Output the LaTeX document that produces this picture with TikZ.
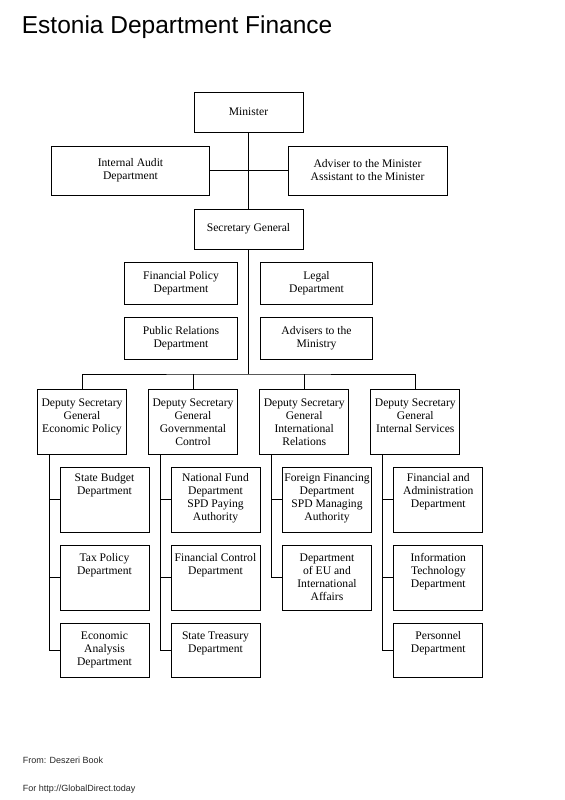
\documentclass[tikz,border=0pt]{standalone}
\usepackage{fontspec}
\setmainfont{Liberation Serif}
\newfontfamily\headfont{Liberation Sans}
\newcommand{\boxfont}{\fontsize{11.6bp}{13bp}\selectfont}
\newcommand{\tallbox}[3]{\parbox[c][#1][t]{89bp}{\vspace*{#2}\centering\strut #3}}
\begin{document}
\begin{tikzpicture}[x=1bp,y=-1bp,
  box/.style={draw, line width=1bp, inner sep=0pt, align=center, font=\boxfont},
  staff/.style={minimum width=112.5bp, minimum height=42bp},
  link/.style={line width=1bp},
  note/.style={anchor=base west, inner sep=0pt, text=black!85}]
\useasboundingbox (0,0) rectangle (565,800);
\node[note, text=black, font=\headfont\fontsize{24.5bp}{28bp}\selectfont] (title) at (21.7,33.3) {Estonia Department Finance};
\node[box, minimum width=109bp, minimum height=40bp] (minister) at (248.5,112) {Minister};
\node[box, minimum width=157bp, minimum height=49bp] (audit) at (130.5,170.5) {Internal Audit\\Department};
\node[box, minimum width=159bp, minimum height=49bp] (adviser) at (367.5,170.5) {Adviser to the Minister\\Assistant to the Minister};
\node[box, minimum width=109bp, minimum height=40bp] (secgen) at (248.5,229) {Secretary General};
\node[box, staff] (finpol) at (181,283) {Financial Policy\\Department};
\node[box, staff] (legal) at (316.5,283) {Legal\\Department};
\node[box, staff] (pubrel) at (181,338) {Public Relations\\Department};
\node[box, staff] (advmin) at (316.5,338) {Advisers to the\\Ministry};
\node[box] (dsecon) at (82,421.7) {\tallbox{65bp}{8bp}{Deputy Secretary\\General\\Economic Policy}};
\node[box] (dsgov) at (193,421.7) {\tallbox{65bp}{8bp}{Deputy Secretary\\General\\Governmental\\Control}};
\node[box] (dsint) at (304.2,421.7) {\tallbox{65bp}{8bp}{Deputy Secretary\\General\\International\\Relations}};
\node[box] (dsserv) at (415.3,421.7) {\tallbox{65bp}{8bp}{Deputy Secretary\\General\\Internal Services}};
\node[box] (budget) at (104.5,499.7) {\tallbox{65bp}{5bp}{State Budget\\Department}};
\node[box] (tax) at (104.5,577.7) {\tallbox{65bp}{7.5bp}{Tax Policy\\Department}};
\node[box] (analysis) at (104.5,650.3) {\tallbox{54bp}{7.5bp}{Economic\\Analysis\\Department}};
\node[box] (fund) at (215.5,499.7) {\tallbox{65bp}{5bp}{National Fund\\Department\\SPD Paying\\Authority}};
\node[box] (control) at (215.5,577.7) {\tallbox{65bp}{7.5bp}{Financial Control\\Department}};
\node[box] (treasury) at (215.5,650.3) {\tallbox{54bp}{7.5bp}{State Treasury\\Department}};
\node[box] (foreign) at (327,499.7) {\tallbox{65bp}{5bp}{Foreign Financing\\Department\\SPD Managing\\Authority}};
\node[box] (euaff) at (327,577.7) {\tallbox{65bp}{7.5bp}{Department\\of EU and\\International\\Affairs}};
\node[box] (admin) at (438.3,499.7) {\tallbox{65bp}{5bp}{Financial and\\Administration\\Department}};
\node[box] (infotech) at (438.3,577.7) {\tallbox{65bp}{7.5bp}{Information\\Technology\\Department}};
\node[box] (personnel) at (438.3,650.3) {\tallbox{54bp}{7.5bp}{Personnel\\Department}};
\node[note, font=\headfont\fontsize{9bp}{10bp}\selectfont] (source) at (22.7,763) {From: Deszeri Book};
\node[note, font=\headfont\fontsize{9bp}{10bp}\selectfont] (site) at (22.7,791.7) {For http://GlobalDirect.today};
\coordinate (bus) at (248.5,374);
\coordinate (econ) at ([xshift=12bp]dsecon.south west);
\coordinate (gov) at ([xshift=12bp]dsgov.south west);
\coordinate (intl) at ([xshift=12bp]dsint.south west);
\coordinate (serv) at ([xshift=12bp]dsserv.south west);
\draw[link] (minister) -- (secgen);
\draw[link] (audit.east) -- (adviser.west);
\draw[link] (secgen) -- (bus);
\draw[link] (dsecon.north) |- (bus) -| (dsserv.north);
\draw[link] (dsgov.north) -- (dsgov.north |- bus);
\draw[link] (dsint.north) -- (dsint.north |- bus);
\draw[link] (econ) |- (budget.west);
\draw[link] (econ) |- (tax.west);
\draw[link] (econ) |- (analysis.west);
\draw[link] (gov) |- (fund.west);
\draw[link] (gov) |- (control.west);
\draw[link] (gov) |- (treasury.west);
\draw[link] (intl) |- (foreign.west);
\draw[link] (intl) |- (euaff.west);
\draw[link] (serv) |- (admin.west);
\draw[link] (serv) |- (infotech.west);
\draw[link] (serv) |- (personnel.west);
\end{tikzpicture}
\end{document}
